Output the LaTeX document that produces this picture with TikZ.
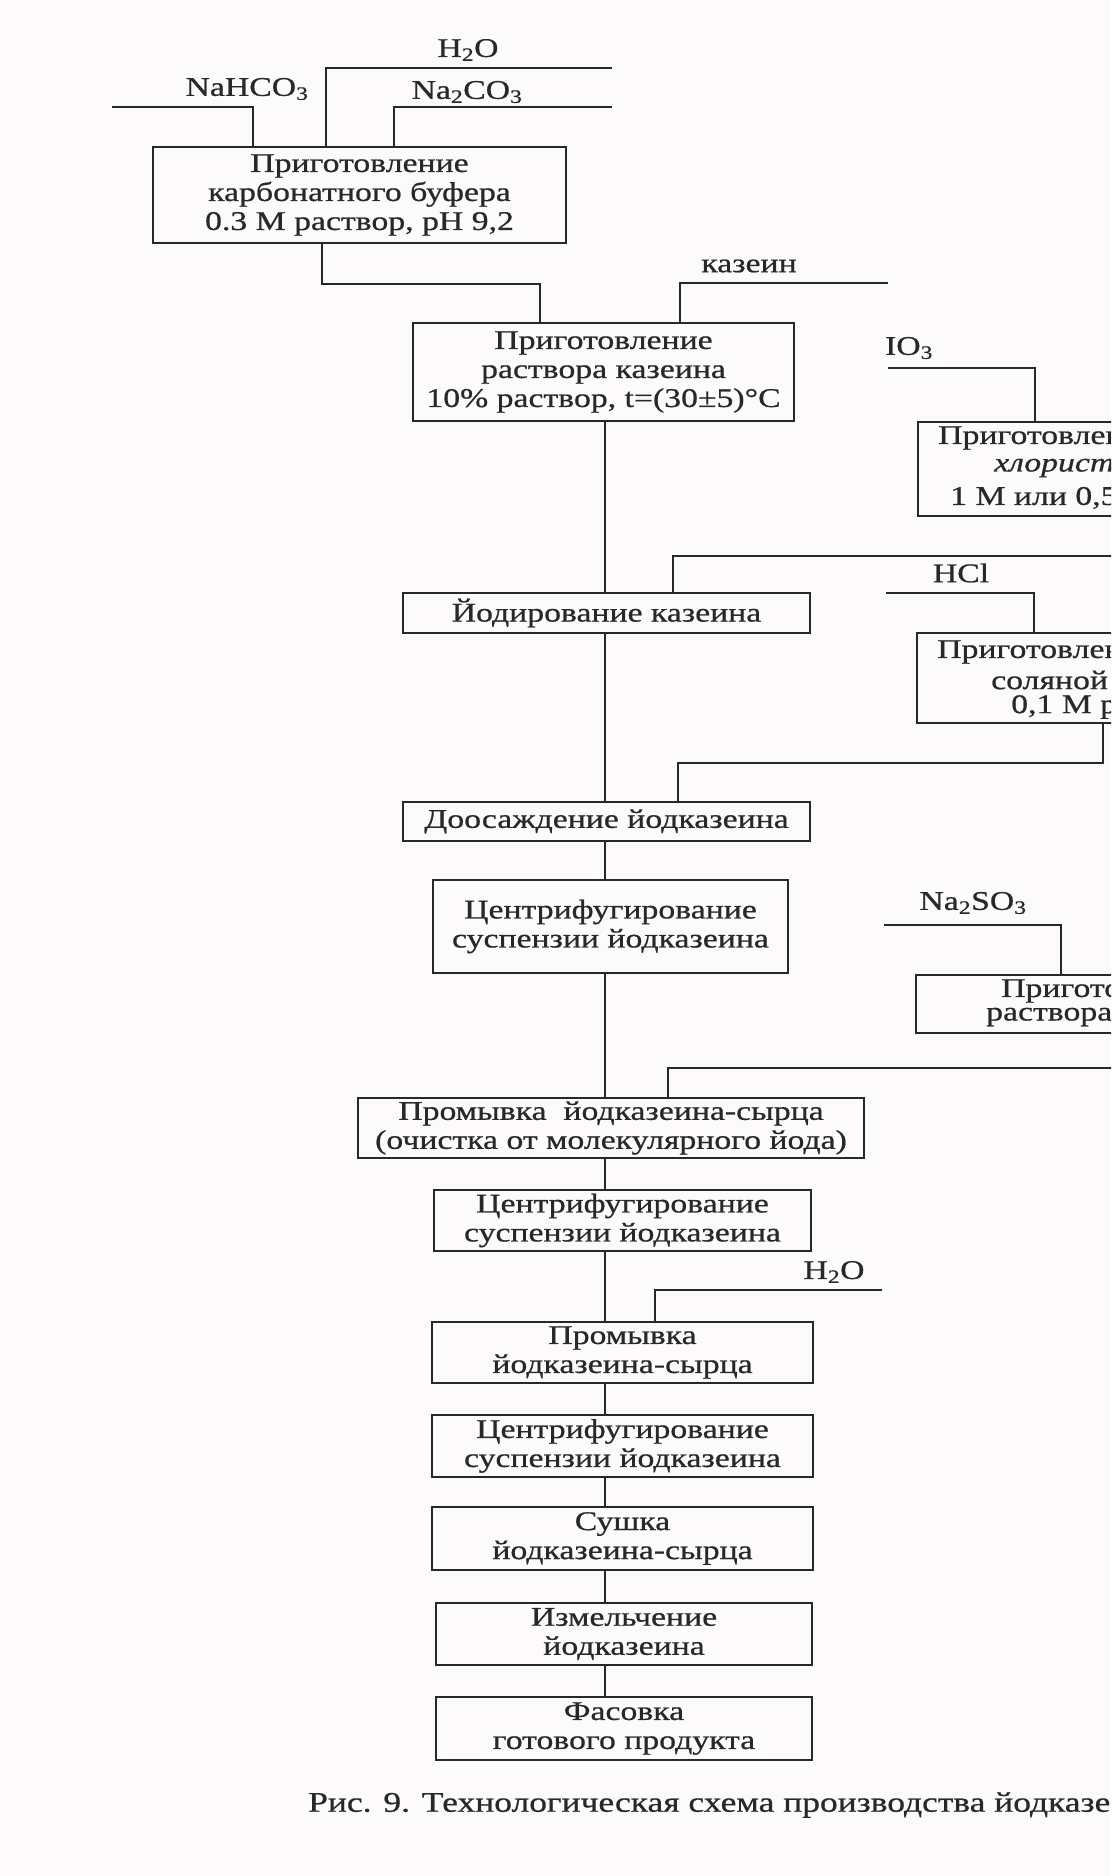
\documentclass[tikz,border=0pt]{standalone}
\usepackage{fontspec}
\setmainfont[FakeStretch=1.25, FakeBold=0.7]{Liberation Serif}
\definecolor{inkgrey}{RGB}{40,40,40}
\definecolor{paperwhite}{RGB}{252,250,251}

\begin{document}
\begin{tikzpicture}[x=1pt, y=-1pt,
    box/.style={rectangle, draw=inkgrey, line width=2.4pt, inner sep=0pt,
                align=center, text=inkgrey, font=\fontsize{27}{29}\selectfont},
    chem/.style={inner sep=0pt, text=inkgrey, font=\fontsize{27}{29}\selectfont},
    line/.style={draw=inkgrey, line width=2pt}]

\useasboundingbox (0,0) rectangle (1111,1876);
\fill[paperwhite] (0,0) rectangle (1111,1876);
\clip (0,0) rectangle (1111,1876);

% main column, the process steps
\node (buffer)    [box, minimum width=413pt, minimum height=96pt] at (359.5,195)
      {Приготовление\\карбонатного буфера\\0.3 М раствор, pH 9,2};
\node (caseinsol) [box, minimum width=381pt, minimum height=98pt] at (603.5,372)
      {Приготовление\\раствора казеина\\10\% раствор, t=(30±5)°C};
\node (iodin)     [box, minimum width=407pt, minimum height=40pt] at (606.5,613) {Йодирование казеина};
\node (precip)    [box, minimum width=407pt, minimum height=39pt] at (606.5,821.5) {Доосаждение йодказеина};
\node (cfg1)      [box, minimum width=355pt, minimum height=93pt] at (610.5,926.5)
      {Центрифугирование\\суспензии йодказеина};
\node (wash1)     [box, minimum width=506pt, minimum height=60pt] at (611,1128)
      {Промывка\ \ йодказеина-сырца\\(очистка от молекулярного йода)};
\node (cfg2)      [box, minimum width=377pt, minimum height=61pt] at (622.5,1220.5)
      {Центрифугирование\\суспензии йодказеина};
\node (wash2)     [box, minimum width=381pt, minimum height=61pt] at (622.5,1352.5) {Промывка\\йодказеина-сырца};
\node (cfg3)      [box, minimum width=381pt, minimum height=62pt] at (622.5,1446)
      {Центрифугирование\\суспензии йодказеина};
\node (dry)       [box, minimum width=381pt, minimum height=63pt] at (622.5,1538.5) {Сушка\\йодказеина-сырца};
\node (mill)      [box, minimum width=376pt, minimum height=62pt] at (624,1634) {Измельчение\\йодказеина};
\node (pack)      [box, minimum width=376pt, minimum height=63pt] at (624,1728.5) {Фасовка\\готового продукта};

% right column, cut off by the page edge
\node (iclsol)  [box, minimum width=260pt, minimum height=94pt] at (1048,469) {};
\node (icltxt1) [chem, anchor=west] at (938,438) {Приготовлен};
\node (icltxt2) [chem, anchor=west, font=\fontsize{27}{29}\selectfont\itshape] at (994,468) {хлорист};
\node (icltxt3) [chem, anchor=west] at (950,498) {1 М или 0,5};
\node (hclsol)  [box, minimum width=260pt, minimum height=90pt] at (1047,678) {};
\node (hcltxt1) [chem, anchor=west] at (937,652) {Приготовлен};
\node (hcltxt2) [chem, anchor=west] at (991,680) {соляной};
\node (hcltxt3) [chem, anchor=west] at (1011,707) {0,1 М р};
\node (sulfsol) [box, minimum width=260pt, minimum height=58pt] at (1046,1004) {};
\node (sultxt1) [chem, anchor=west] at (1001,991) {Пригото};
\node (sultxt2) [chem, anchor=west] at (986,1017) {раствора};

% reagents
\node (nahco)  [chem] at (247,89)   {NaHCO\textsubscript{3}};
\node (watera) [chem] at (468,50)   {H\textsubscript{2}O};
\node (naco)   [chem] at (467,92)   {Na\textsubscript{2}CO\textsubscript{3}};
\node (casein) [chem] at (749,266)  {казеин};
\node (iodate) [chem] at (909,348)  {IO\textsubscript{3}};
\node (hcl)    [chem] at (961,573)  {HCl};
\node (sulf)   [chem] at (973,903)  {Na\textsubscript{2}SO\textsubscript{3}};
\node (waterb) [chem] at (834,1272) {H\textsubscript{2}O};

\coordinate (nahcoin)  at (112,107);
\coordinate (waterain) at (612,68);
\coordinate (nacoin)   at (612,107);
\coordinate (caseinin) at (888,283);
\coordinate (iodatein) at (888,368);
\coordinate (hclin)    at (886,593);
\coordinate (sulfin)   at (884,925);
\coordinate (waterbin) at (882,1290);
\coordinate (ax)       at (605,0);

% reagent feeds
\draw [line] (nahcoin)  -| ([xshift=101pt]buffer.north west);
\draw [line] (waterain) -| ([xshift=174pt]buffer.north west);
\draw [line] (nacoin)   -| ([xshift=242pt]buffer.north west);
\draw [line] (caseinin) -| ([xshift=268pt]caseinsol.north west);
\draw [line] (iodatein) -| ([xshift=118pt]iclsol.north west);
\draw [line] (hclin)    -| ([xshift=118pt]hclsol.north west);
\draw [line] (sulfin)   -| ([xshift=146pt]sulfsol.north west);
\draw [line] (waterbin) -| ([xshift=224pt]wash2.north west);

% side streams into the main column
\draw [line] ([xshift=170pt]buffer.south west) -- ++(0,40) -| ([xshift=128pt]caseinsol.north west);
\draw [line] ([xshift=232pt]iclsol.south west) -- ++(0,39) -| ([xshift=271pt]iodin.north west);
\draw [line] ([xshift=187pt]hclsol.south west) -- ++(0,39) -| ([xshift=276pt]precip.north west);
\draw [line] ([xshift=234pt]sulfsol.south west) -- ++(0,34) -| ([xshift=311pt]wash1.north west);

% main column links
\draw [line] (caseinsol.south -| ax) -- (iodin.north -| ax);
\foreach \a/\b in {iodin/precip, precip/cfg1, cfg1/wash1, wash1/cfg2, cfg2/wash2,
                   wash2/cfg3, cfg3/dry, dry/mill, mill/pack}
  \draw [line] (\a.south -| ax) -- (\b.north -| ax);

% caption
\node (caption) [chem, anchor=west, font=\fontsize{28.4}{31}\selectfont] at (308,1805)
      {Рис. 9. Технологическая схема производства йодказе};

\end{tikzpicture}
\end{document}
